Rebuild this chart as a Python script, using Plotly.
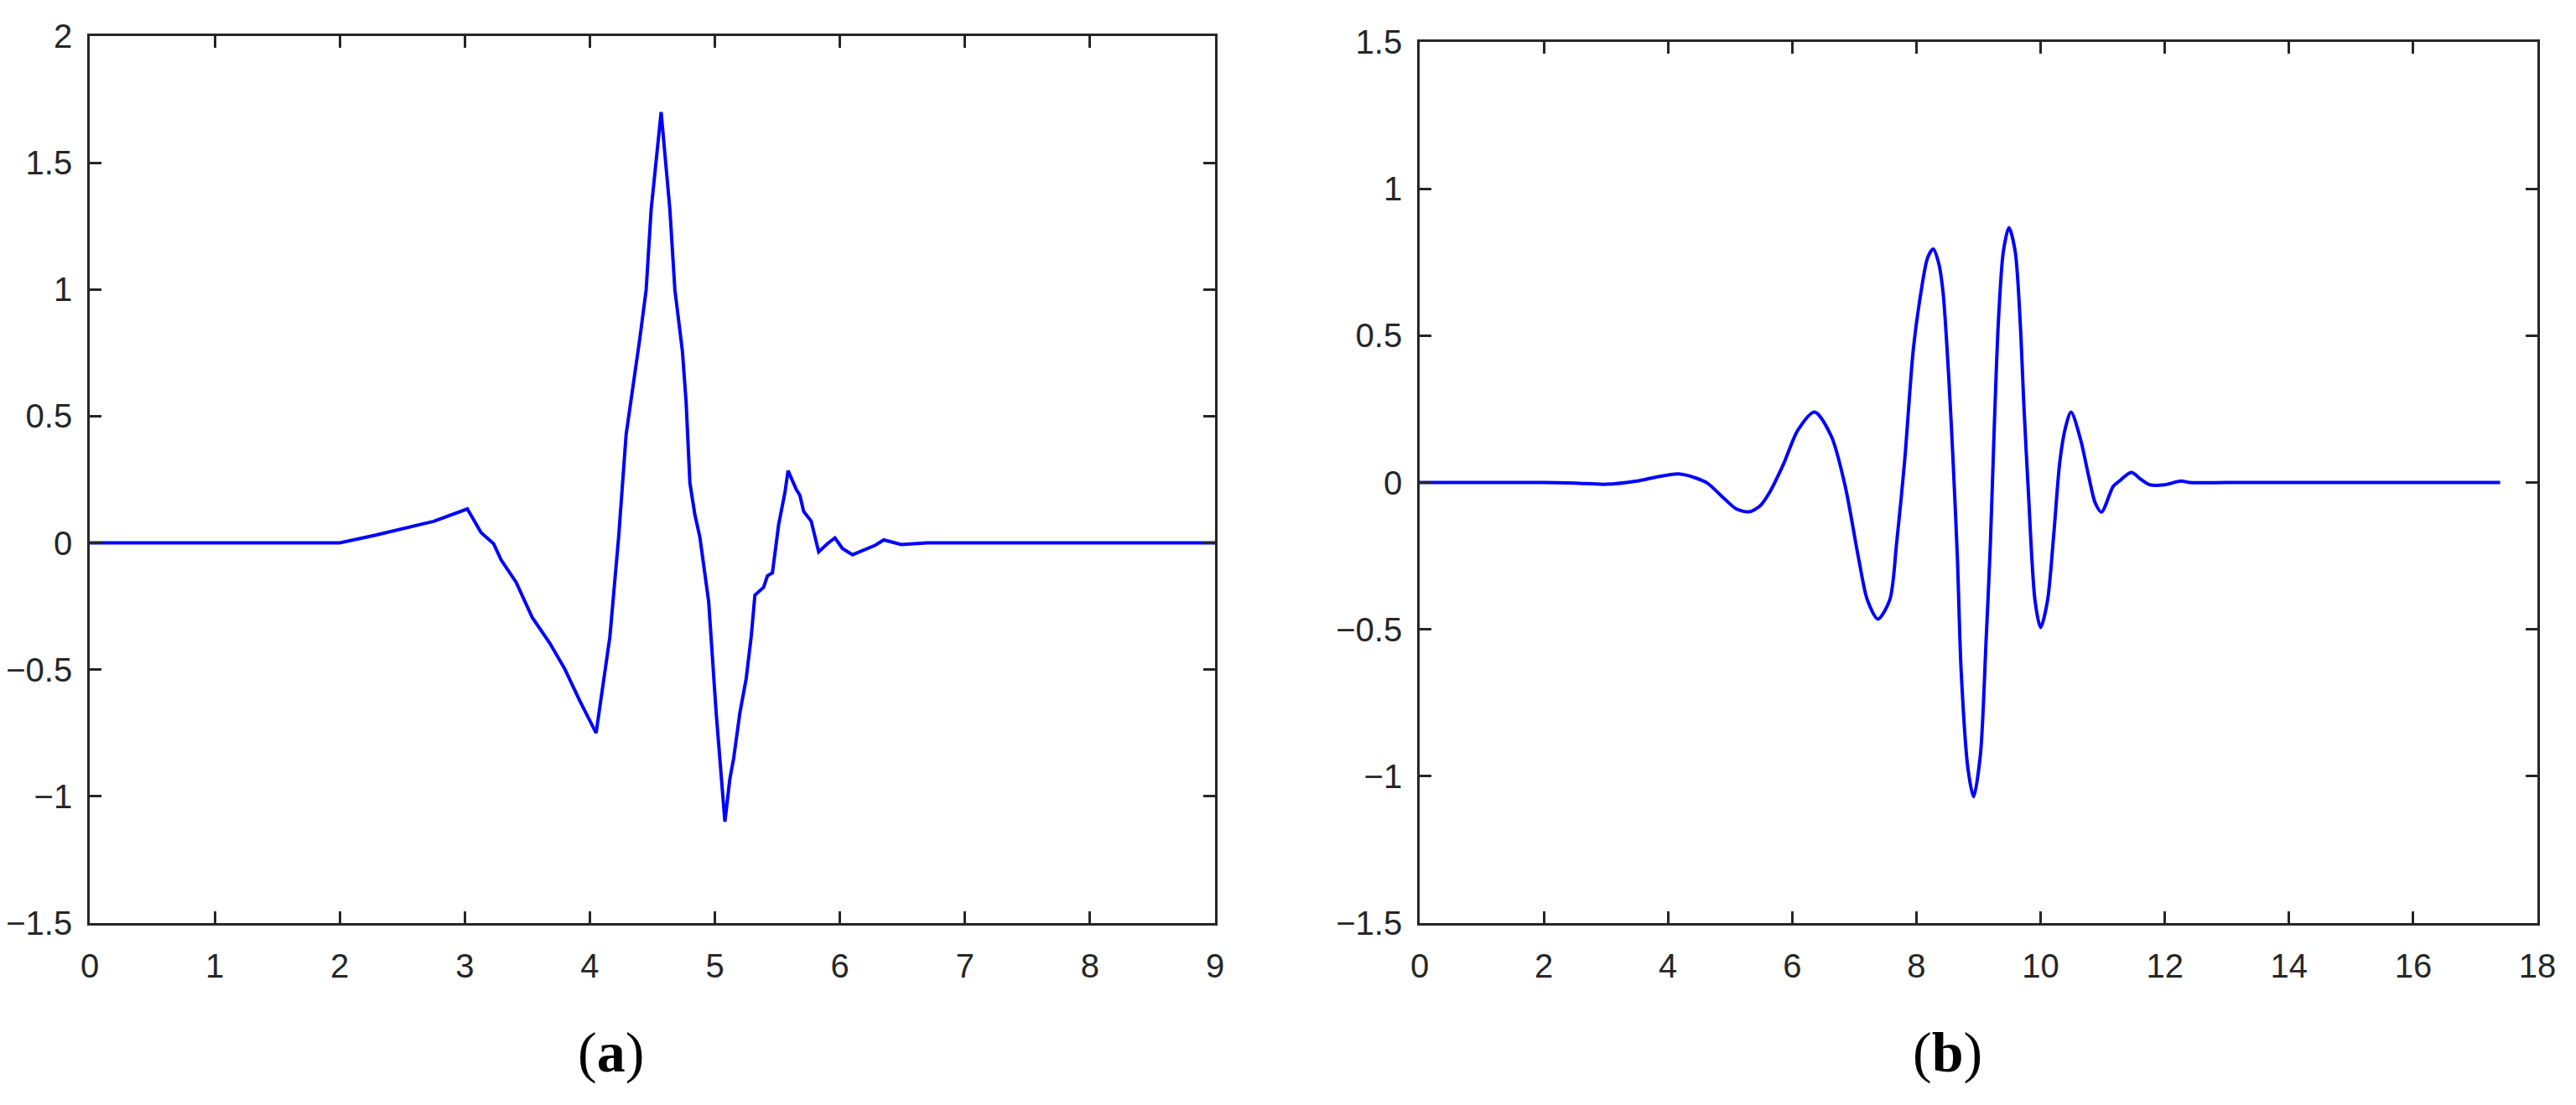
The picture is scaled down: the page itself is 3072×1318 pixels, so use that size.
import plotly.graph_objects as go

# ---- Data: panel (a) ----
a_x = [0, 2.0, 2.28, 2.5, 2.75, 3.02, 3.13, 3.23, 3.29, 3.41, 3.54, 3.68, 3.80, 3.92, 4.05,
       4.16, 4.23, 4.29, 4.36, 4.40, 4.45, 4.49, 4.57, 4.64, 4.68, 4.74, 4.77, 4.80, 4.84,
       4.88, 4.95, 4.98, 5.01, 5.08, 5.12, 5.15, 5.20, 5.25, 5.29, 5.32, 5.39, 5.42, 5.46,
       5.51, 5.56, 5.585, 5.65, 5.68, 5.71, 5.77, 5.83, 5.90, 5.96, 6.02, 6.10, 6.28, 6.35,
       6.49, 6.7, 9.0]
a_y = [0, 0, 0.03, 0.055, 0.085, 0.134, 0.041, -0.003, -0.067, -0.155, -0.295, -0.396, -0.498,
       -0.624, -0.75, -0.371, 0.022, 0.428, 0.656, 0.808, 0.998, 1.315, 1.70, 1.315, 0.998,
       0.757, 0.554, 0.237, 0.111, 0.022, -0.231, -0.46, -0.67, -1.10, -0.93, -0.85, -0.67,
       -0.536, -0.371, -0.206, -0.175, -0.13, -0.118, 0.073, 0.199, 0.285, 0.212, 0.187,
       0.124, 0.086, -0.035, -0.003, 0.02, -0.022, -0.047, -0.01, 0.012, -0.006, 0, 0]

# ---- Data: panel (b) ----
b_x = [0, 1, 2, 2.5, 3.0, 3.5, 3.8, 4.17, 4.45, 4.64, 4.91, 5.10, 5.30, 5.48, 5.64, 5.86,
       6.09, 6.36, 6.63, 6.85, 7.07, 7.21, 7.38, 7.57, 7.68, 7.81, 7.95, 8.07, 8.18, 8.27,
       8.36, 8.43, 8.52, 8.59, 8.66, 8.72, 8.83, 8.92, 9.03, 9.12, 9.19, 9.25, 9.32, 9.40,
       9.49, 9.59, 9.67, 9.73, 9.80, 9.91, 10.00, 10.11, 10.21, 10.31, 10.40, 10.49, 10.64,
       10.77, 10.88, 10.98, 11.17, 11.27, 11.46, 11.62, 11.76, 11.99, 12.26, 12.4, 13, 14,
       15, 16, 17, 17.4]
b_y = [0, 0, 0, -0.002, -0.006, 0.005, 0.018, 0.029, 0.015, -0.003, -0.056, -0.09, -0.100,
       -0.080, -0.032, 0.063, 0.178, 0.240, 0.157, -0.01, -0.26, -0.40, -0.465, -0.40,
       -0.208, 0.073, 0.454, 0.644, 0.765, 0.795, 0.745, 0.644, 0.359, 0.073, -0.26, -0.641,
       -0.975, -1.070, -0.927, -0.546, -0.213, 0.168, 0.549, 0.787, 0.868, 0.787, 0.549,
       0.263, -0.022, -0.403, -0.494, -0.403, -0.18, 0.073, 0.187, 0.240, 0.149, 0.025,
       -0.07, -0.101, -0.013, 0.005, 0.034, 0.01, -0.008, -0.008, 0.005, 0, 0, 0, 0, 0, 0, 0]

a_xticks = [0, 1, 2, 3, 4, 5, 6, 7, 8, 9]
a_yticks = [-1.5, -1, -0.5, 0, 0.5, 1, 1.5, 2]
b_xticks = [0, 2, 4, 6, 8, 10, 12, 14, 16, 18]
b_yticks = [-1.5, -1, -0.5, 0, 0.5, 1, 1.5]
panel_labels = ["(<b>a</b>)", "(<b>b</b>)"]

W, H = 3072, 1318
OFF = 8  # page body margin offset
AX = "#262626"
LINE = "#0000FF"


def px(xp):
    return (xp - OFF) / W


def py(yp):
    return (H - (yp - OFF)) / H


fig = go.Figure()
fig.add_trace(go.Scatter(x=a_x, y=a_y, mode="lines", line=dict(color=LINE, width=4),
                         xaxis="x", yaxis="y", showlegend=False))
fig.add_trace(go.Scatter(x=b_x, y=b_y, mode="lines", line=dict(color=LINE, width=4, shape="spline", smoothing=0.8),
                         xaxis="x2", yaxis="y2", showlegend=False))

tickfont = dict(family="Liberation Sans, Arial, sans-serif", size=40, color=AX)


def axis_common():
    return dict(showline=True, linecolor=AX, linewidth=2.7, mirror="ticks",
                ticks="inside", ticklen=14, tickwidth=2.7, tickcolor=AX,
                showgrid=False, zeroline=False, tickfont=tickfont, automargin=False)


fig.update_layout(
    template="none",
    width=W, height=H, paper_bgcolor="white", plot_bgcolor="white",
    margin=dict(l=0, r=0, t=0, b=0, pad=0),
    xaxis=dict(domain=[px(107), px(1449)], range=[0, 9], tickvals=a_xticks,
               anchor="y", ticklabelstandoff=14, **axis_common()),
    yaxis=dict(domain=[py(1101), py(43)], range=[-1.5, 2], tickvals=a_yticks,
               anchor="x", ticklabelstandoff=10, **axis_common()),
    xaxis2=dict(domain=[px(1693), px(3026)], range=[0, 18], tickvals=b_xticks,
                anchor="y2", ticklabelstandoff=14, **axis_common()),
    yaxis2=dict(domain=[py(1101), py(50)], range=[-1.5, 1.5], tickvals=b_yticks,
                anchor="x2", ticklabelstandoff=10, **axis_common()),
    annotations=[
        dict(text=panel_labels[0], x=px(728), y=py(1255), xref="paper", yref="paper",
             xanchor="center", yanchor="middle", showarrow=False,
             font=dict(family="Liberation Serif, Times New Roman, serif", size=68, color="black")),
        dict(text=panel_labels[1], x=px(2322), y=py(1255), xref="paper", yref="paper",
             xanchor="center", yanchor="middle", showarrow=False,
             font=dict(family="Liberation Serif, Times New Roman, serif", size=68, color="black")),
    ],
)

fig.write_html("out.html")
